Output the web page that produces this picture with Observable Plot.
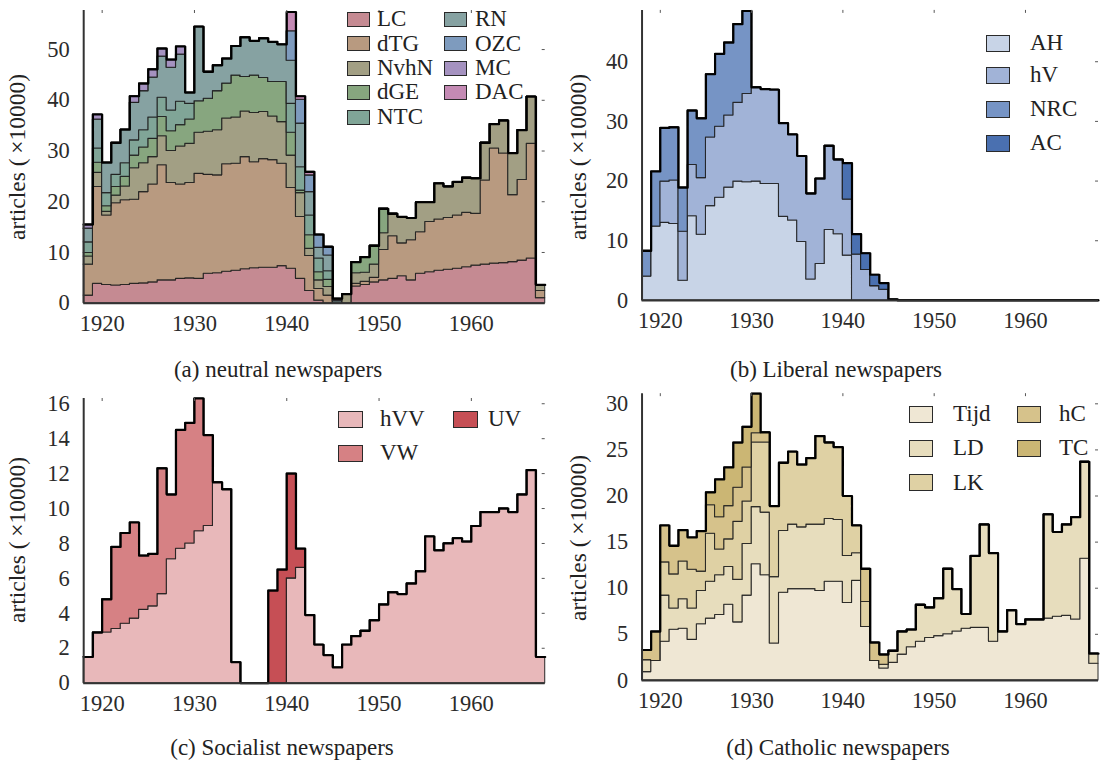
<!DOCTYPE html>
<html><head><meta charset="utf-8">
<script src="https://cdn.jsdelivr.net/npm/d3@7"></script>
<script src="https://cdn.jsdelivr.net/npm/@observablehq/plot@0.6"></script>
<style>
html,body{margin:0;padding:0;background:#fff}
body{width:1100px;height:765px;overflow:hidden;position:relative;font-family:"Liberation Serif","Times New Roman",serif;color:#222}
.panel{position:absolute}
.cap{position:absolute;font-size:23px;line-height:26px;transform:translateX(-50%);white-space:nowrap;color:#222}
.ylab{position:absolute;font-size:23.5px;line-height:26px;white-space:nowrap;transform:translate(-50%,-50%) rotate(-90deg);color:#222}
.leg{position:absolute;font-size:23px;line-height:26px;display:flex;align-items:center;white-space:nowrap;color:#222}
.sw{box-sizing:border-box;border:1.5px solid #2a2a2a}
</style></head><body>
<script>
// ---------- data ----------
const years = [1918,1919,1920,1921,1922,1923,1924,1925,1926,1927,1928,1929,1930,1931,1932,1933,1934,1935,1936,1937,1938,1939,1940,1941,1942,1943,1944,1945,1946,1947,1948,1949,1950,1951,1952,1953,1954,1955,1956,1957,1958,1959,1960,1961,1962,1963,1964,1965,1966,1967];
const endYear = 1968;
const xTicks = [1920,1930,1940,1950,1960];

// (a) neutral newspapers (x10000 articles per year)
const neutralNames = ["LC","dTG","NvhN","dGE","NTC","RN","OZC","MC","DAC"];
const neutralColors = ["#c58a92","#b89a80","#a29f84","#87a67f","#80a597","#86a2a2","#7e9bbe","#a592c0","#c48ab4"];
const LC   = [1.5,3.8,3.6,3.5,3.6,3.8,3.9,4.1,4.5,4.5,4.8,4.9,4.8,5.8,5.9,6.2,6.4,6.7,6.9,7.0,7.0,7.3,6.8,4.8,2.4,0.5,0,0,0,3.3,3.6,4.1,4.5,4.8,5.3,4.5,5.8,6.1,6.4,6.6,6.8,7.1,7.4,7.6,7.8,7.9,8.1,8.4,8.8,1.0];
const dTG  = [6.1,19.1,13.7,16.2,16.7,16.6,18.0,19.3,22.7,19.2,18.6,18.8,20.7,19.5,19.3,21.2,21.1,22.1,20.9,21.4,21.2,20.2,15.9,12.2,6.9,2.3,1.5,0,0,0.5,0.6,0.9,6.0,8.4,6.5,7.9,8.2,9.9,10.1,10.2,10.5,10.7,10.2,16.6,22.7,21.6,13.2,15.9,22.6,1.4];
const NvhN = [1.6,2.8,0.7,1.5,2.7,6.2,5.7,5.4,5.7,6.3,7.5,7.7,8.1,8.5,8.9,9.0,9.1,9.0,9.7,9.3,8.6,8.2,6.4,4.7,1.4,1.7,1.7,0,1.8,2.1,1.8,2.6,3.3,4.4,5.2,4.4,5.9,3.9,7.1,6.2,6.6,6.9,7.0,7.4,4.8,6.5,8.3,9.8,9.3,1.2];
const dGE  = [0.7,2.0,1.1,1.7,1.9,2.5,3.1,3.6,3.8,3.9,4.2,4.8,6.2,6.5,7.7,6.9,8.3,6.8,7.4,6.7,6.8,7.9,4.5,0.5,2.7,1.6,1.4,0,0,2.2,3.1,3.7,4.8,0,0,0,0,0,0,0,0,0,0,0,0,0,0,0,0,0];
const NTC  = [2.1,2.8,2.6,2.4,2.7,3.0,3.4,4.2,3.8,4.1,4.6,3.1,0,0,0,0,0,0,0,0,0,0,5.7,4.6,3.9,2.7,1.7,0,0,0,0,0,0,0,0,0,0,0,0,0,0,0,0,0,0,0,0,0,0,0];
const RN   = [2.7,5.7,6.0,6.3,6.6,7.4,7.7,7.9,8.1,8.4,9.3,2.2,14.7,5.3,5.1,4.9,5.8,7.8,6.8,7.8,7.9,7.4,8.5,8.6,4.6,2.1,3.1,0.4,0,0,0,0,0,0,0,0,0,0,0,0,0,0,0,0,0,0,0,0,0,0];
const OZC  = [0,0,0,0,0,0,0,0,0,0,0,0,0,0,0,0,0,0,0,0,0,0,5.8,4.7,3.3,2.6,1.7,0,0,0,0,0,0,0,0,0,0,0,0,0,0,0,0,0,0,0,0,0,0,0];
const MC   = [0.8,1.0,0,0,0,1.3,1.5,1.6,1.6,1.6,1.6,0,0,0,0,0,0,0,0,0,0,0,0,0,0,0,0,0.2,0,0,0,0,0,0,0,0,0,0,0,0,0,0,0,0,0,0,0,0,0,0];
const DAC  = [0,0,0,0,0,0,0,0,0,0,0,0,0,0,0,0,0,0,0,0,0,0,3.8,0.7,0.7,0,0,0.3,0,0,0,0,0,0,0,0,0,0,0,0,0,0,0,0,0,0,0,0,0,0];

// (b) Liberal newspapers
const liberalNames = ["AH","hV","NRC","AC"];
const liberalColors = ["#c8d4e7","#a1b3d7","#7694c5","#4a70b0"];
const AH  = [4.0,12.4,13.0,12.8,3.3,14.1,11.0,15.8,17.2,18.9,19.9,19.8,19.9,19.5,19.5,14.0,13.4,9.8,3.5,6.1,11.8,11.1,7.5,0,0,0,0,0,0,0,0,0,0,0,0,0,0,0,0,0,0,0,0,0,0,0,0,0,0,0];
const hV  = [0,0,6.9,7.3,8.2,8.6,9.5,11.5,11.9,12.1,13.2,14.8,15.8,15.9,15.8,15.7,14.4,14.4,14.4,14.3,14.1,12.5,9.4,7.7,5.1,2.4,1.8,0,0,0,0,0,0,0,0,0,0,0,0,0,0,0,0,0,0,0,0,0,0,0];
const NRC = [4.3,9.2,9.0,8.9,7.4,9.1,10.0,10.6,12.2,12.2,13.2,13.9,0,0,0,0,0,0,0,0,0,0,0,0,0,0,0,0,0,0,0,0,0,0,0,0,0,0,0,0,0,0,0,0,0,0,0,0,0,0];
const AC  = [0,0,0,0,0,0,0,0,0,0,0,0,0,0,0,0,0,0,0,0,0,0,6.1,3.4,2.8,1.9,1.1,0.2,0,0,0,0,0,0,0,0,0,0,0,0,0,0,0,0,0,0,0,0,0,0];

// (c) Socialist newspapers
const socialistNames = ["hVV","VW","UV"];
const socialistColors = ["#e8b8ba","#d68184","#c64f55"];
const hVV = [1.5,2.9,2.9,3.1,3.4,3.7,4.2,4.4,5.1,7.1,7.7,8.0,8.7,9.0,11.5,11.1,1.2,0,0,0,0,0,6.0,6.6,3.9,2.2,1.6,0.9,2.2,2.7,3.0,3.6,4.5,5.2,5.1,5.7,6.4,8.4,7.6,8.0,8.3,8.1,9.0,9.8,9.8,10.0,9.8,10.8,12.2,1.5];
const VW  = [0,0,1.9,4.7,5.2,5.5,3.1,3.0,7.2,3.7,6.8,6.9,7.6,5.2,0,0,0,0,0,0,0,0,0,0,0,0,0,0,0,0,0,0,0,0,0,0,0,0,0,0,0,0,0,0,0,0,0,0,0,0];
const UV  = [0,0,0,0,0,0,0,0,0,0,0,0,0,0,0,0,0,0,0,0,5.3,6.5,6.0,1.1,0,0,0,0,0,0,0,0,0,0,0,0,0,0,0,0,0,0,0,0,0,0,0,0,0,0];

// (d) Catholic newspapers
const catholicNames = ["Tijd","LD","LK","hC","TC"];
const catholicColors = ["#efe7d4","#e7ddbd","#dfd1a4","#d6c28b","#cbb674"];
const Tijd = [0.9,2.1,4.2,5.5,5.6,4.4,6.1,6.7,7.1,8.2,6.3,9.2,12.6,11.4,4.0,9.5,9.9,9.9,9.9,9.7,10.7,10.7,8.4,10.8,5.8,2.1,1.3,1.9,2.8,3.6,4.2,4.6,4.8,5.0,5.3,5.6,5.7,5.7,4.2,5.3,7.6,6.1,6.6,6.6,6.7,6.9,7.0,6.6,13.2,1.8];
const LD   = [1.3,0,5.0,2.3,3.2,3.4,3.6,4.0,4.3,4.1,4.6,5.6,6.2,6.8,7.2,6.7,7.0,6.7,7.0,7.2,6.8,6.7,5.1,3.0,0,0,0.4,1.3,2.5,1.9,4.0,3.3,4.1,7.1,4.6,1.6,7.8,11.2,9.6,0,0,0,0,0,11.3,9.2,9.9,11.1,10.5,1.1];
const LK   = [0,0,3.6,3.7,4.1,4.2,2.1,5.2,2.8,3.0,6.3,4.6,7.0,7.6,7.7,7.4,7.9,6.8,7.2,9.6,8.3,7.9,6.5,3.0,2.7,0,0,0,0,0,0,0,0,0,0,0,0,0,0,0,0,0,0,0,0,0,0,0,0,0];
const hC   = [1.1,3.2,4.0,3.1,3.4,3.5,4.4,3.1,3.5,3.6,3.7,3.7,1.0,1.1,0,0,0,0,0,0,0,0,0,0,3.6,2.0,1.1,0,0,0,0,0,0,0,0,0,0,0,0,0,0,0,0,0,0,0,0,0,0,0];
const TC   = [0,0,0,0,0,0,0,1.4,4.1,4.2,4.9,4.4,4.3,0,0,0,0,0,0,0,0,0,0,0,0,0,0,0,0,0,0,0,0,0,0,0,0,0,0,0,0,0,0,0,0,0,0,0,0,0];

// ---------- drawing ----------
function makePanel(cfg) {
  const {names, series, colors, yMax, yTicks, left, top, width, height, ml, mr, mt, mb} = cfg;
  const rows = [];
  names.forEach((n, k) => {
    const vals = series[k];
    vals.forEach((v, i) => rows.push({year: years[i], value: v, series: n}));
    rows.push({year: endYear, value: vals[vals.length - 1], series: n});
  });
  const innerH = height - mt - mb, innerW = width - ml - mr;
  const svg = Plot.plot({
    width, height, marginLeft: ml, marginRight: mr, marginTop: mt, marginBottom: mb,
    style: {fontFamily: "'Liberation Serif','Times New Roman',serif", fontSize: "22.5px", color: "#2b2b2b", background: "transparent", overflow: "visible"},
    x: {domain: [years[0], endYear], label: null},
    y: {domain: [0, yMax], label: null},
    color: {domain: names, range: colors},
    marks: [
      Plot.areaY(rows, Plot.stackY({x: "year", y: "value", z: "series", fill: "series", order: names, curve: "step-after", stroke: "#1c1c1c", strokeWidth: 1.1, strokeOpacity: 0.85})),
      Plot.lineY(rows, Plot.groupX({y: "sum"}, {x: "year", y: "value", curve: "step-after", stroke: "#000", strokeWidth: 2.2})),
      Plot.tickX(xTicks, {x: d => d, insetBottom: innerH - 3, stroke: "#555", strokeWidth: 1}),
      Plot.tickY(yTicks, {y: d => d, insetLeft: innerW - 3, stroke: "#555", strokeWidth: 1}),
      Plot.ruleX([years[0]], {stroke: "#333", strokeWidth: 2}),
      Plot.ruleY([0], {stroke: "#333", strokeWidth: 2}),
      Plot.axisX({ticks: xTicks, tickSize: 0, tickPadding: 12, tickFormat: d => String(d), label: null}),
      Plot.axisY({ticks: yTicks, tickSize: 0, tickPadding: 14, label: null})
    ]
  });
  const div = document.createElement("div");
  div.className = "panel";
  div.style.left = left + "px";
  div.style.top = top + "px";
  div.append(svg);
  document.body.append(div);
}

function addText(cls, text, x, y) {
  const d = document.createElement("div");
  d.className = cls;
  d.textContent = text;
  d.style.left = x + "px";
  d.style.top = y + "px";
  document.body.append(d);
}

function legend(names, colors, pos, sw) {
  names.forEach((n, i) => {
    const [x, yc, tx] = pos[i];
    const s = document.createElement("div");
    s.className = "sw";
    Object.assign(s.style, {position: "absolute", left: x + "px", top: (yc - sw[1] / 2) + "px", width: sw[0] + "px", height: sw[1] + "px", background: colors[i]});
    document.body.append(s);
    const t = document.createElement("div");
    t.className = "leg";
    t.textContent = n;
    Object.assign(t.style, {left: tx + "px", top: (yc - 13) + "px"});
    document.body.append(t);
  });
}

makePanel({names: neutralNames, series: [LC, dTG, NvhN, dGE, NTC, RN, OZC, MC, DAC], colors: neutralColors,
  yMax: 57.7, yTicks: [0,10,20,30,40,50], left: 0, top: 0, width: 550, height: 345, ml: 83.2, mr: 5.3, mt: 10, mb: 42.3});
makePanel({names: liberalNames, series: [AH, hV, NRC, AC], colors: liberalColors,
  yMax: 48.6, yTicks: [0,10,20,30,40], left: 560, top: 0, width: 545, height: 345, ml: 82.3, mr: 2, mt: 10, mb: 42.3});
makePanel({names: socialistNames, series: [hVV, VW, UV], colors: socialistColors,
  yMax: 16.3, yTicks: [0,2,4,6,8,10,12,14,16], left: 0, top: 380, width: 550, height: 345, ml: 83.2, mr: 5.3, mt: 18, mb: 42.3});
makePanel({names: catholicNames, series: [Tijd, LD, LK, hC, TC], colors: catholicColors,
  yMax: 31.1, yTicks: [0,5,10,15,20,25,30], left: 560, top: 380, width: 545, height: 345, ml: 82.3, mr: 2, mt: 13.3, mb: 42.3});

// axis titles and captions
const yTitle = "articles (\u2009\u00d710000)";
addText("ylab", yTitle, 17, 157);
addText("ylab", yTitle, 578, 157);
addText("ylab", yTitle, 17, 540);
addText("ylab", yTitle, 578, 538);
addText("cap", "(a) neutral newspapers", 278, 357);
addText("cap", "(b) Liberal newspapers", 836, 357);
addText("cap", "(c) Socialist newspapers", 282, 735);
addText("cap", "(d) Catholic newspapers", 838, 735);

// legends
legend(neutralNames, neutralColors, [
  [347, 19, 377], [347, 43.5, 377], [347, 68, 377], [347, 92.3, 377], [347, 117, 377],
  [444, 19, 475], [444, 43.5, 475], [444, 68, 475], [444, 92.3, 475]
], [23, 15]);
legend(liberalNames, liberalColors, [
  [986, 43, 1030], [986, 75, 1030], [986, 109, 1030], [986, 143, 1030]
], [24, 17]);
legend(socialistNames, socialistColors, [
  [338, 419, 380], [338, 453.3, 380], [453.3, 419, 488]
], [24.5, 17]);
legend(catholicNames, catholicColors, [
  [909, 414.3, 953], [909, 448.3, 953], [909, 482.8, 953], [1016.7, 414.3, 1059], [1016.7, 448.3, 1059]
], [24, 17]);
</script>
</body></html>
